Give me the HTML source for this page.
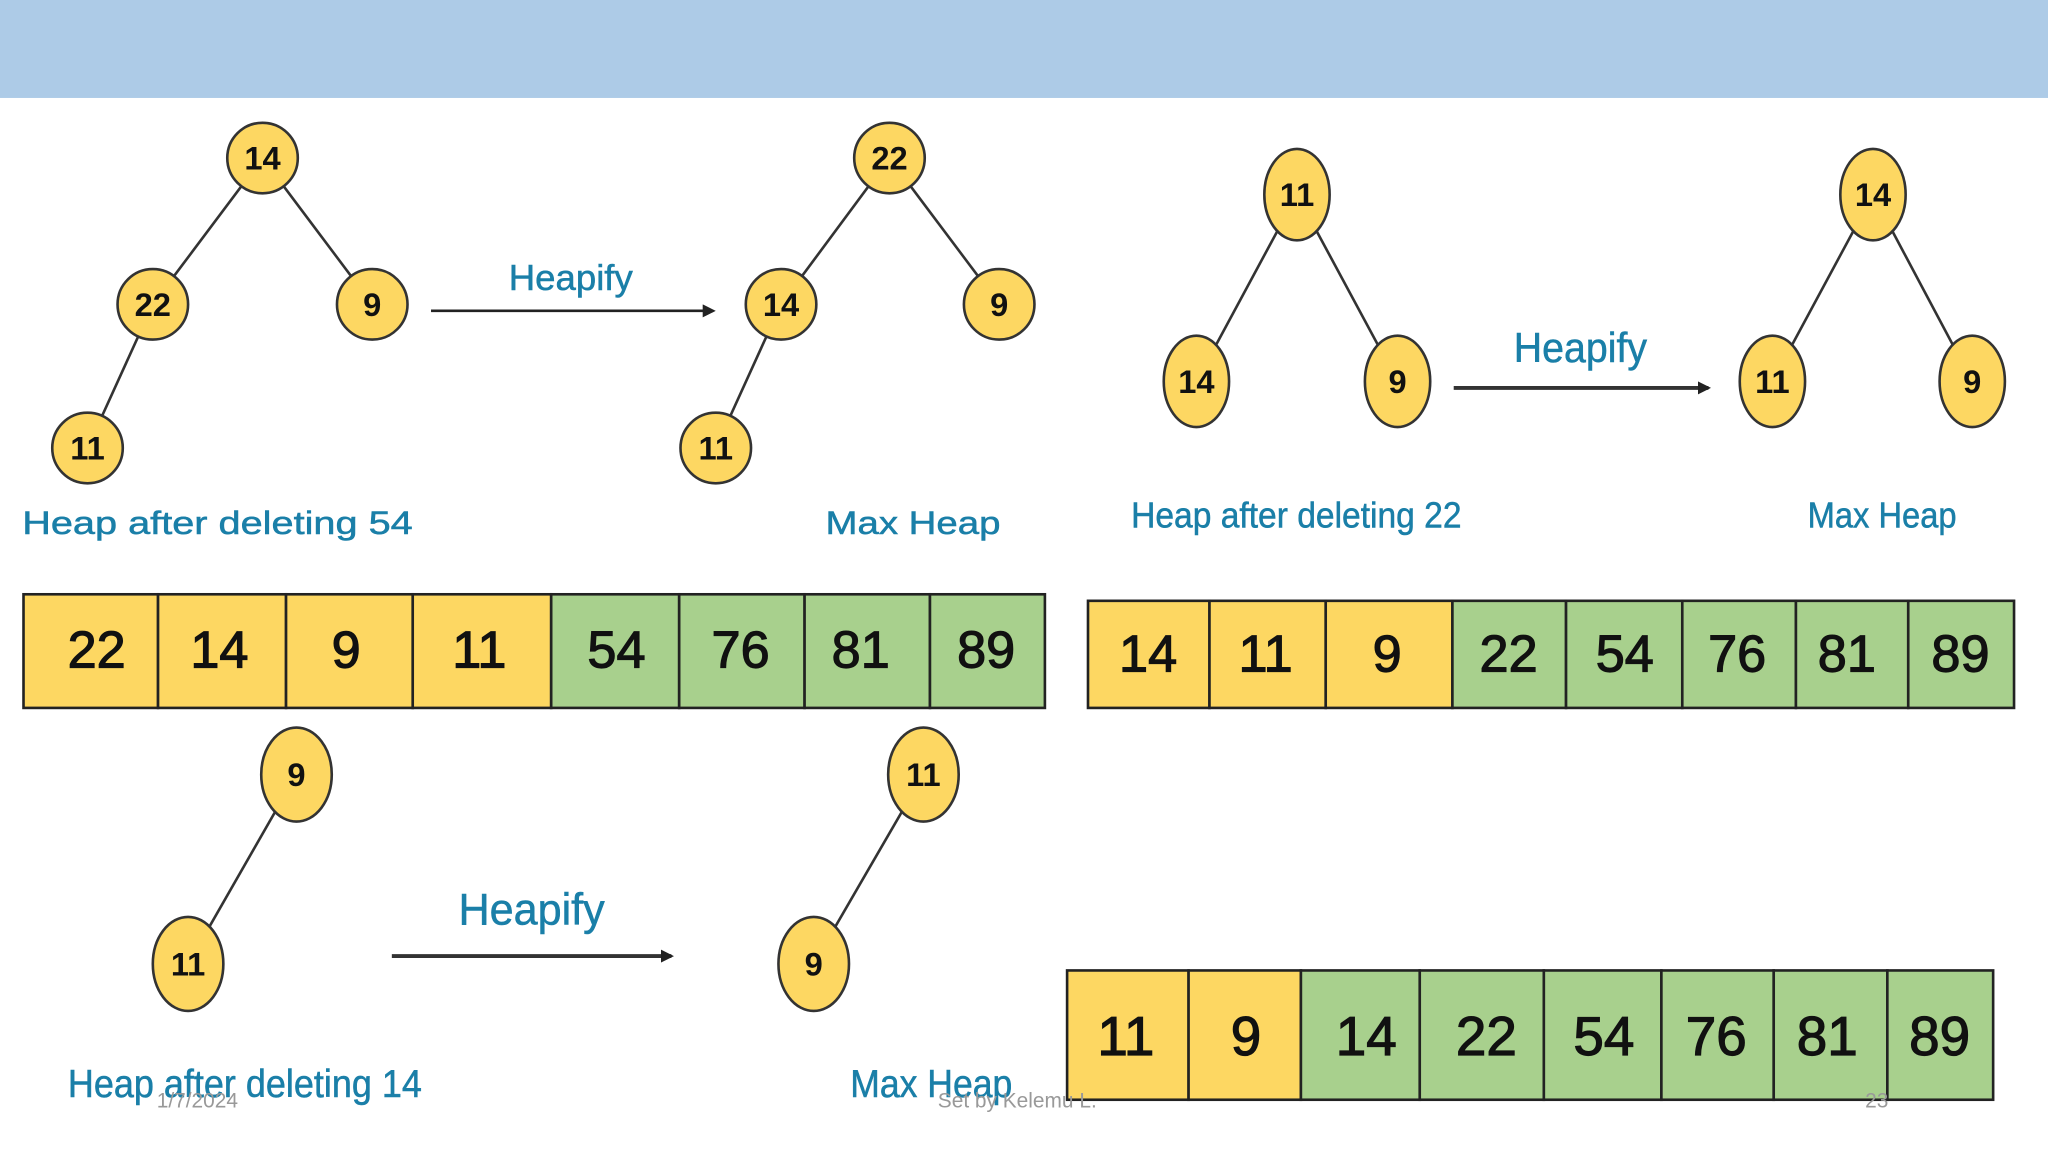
<!DOCTYPE html>
<html><head><meta charset="utf-8"><style>
html,body{margin:0;padding:0;background:#fff;width:2048px;height:1152px;overflow:hidden}
svg{display:block}
text{font-family:"Liberation Sans",sans-serif}
.n{font-size:25px;font-weight:bold;fill:#111;text-anchor:middle;dominant-baseline:central}
.a{font-size:40px;fill:#111;stroke:#111;stroke-width:0.9px;text-anchor:middle;dominant-baseline:central}
.b{font-size:42px;fill:#111;stroke:#111;stroke-width:0.9px;text-anchor:middle;dominant-baseline:central}
.t{fill:#1a7fa8;stroke:#1a7fa8;stroke-width:0.4px}
.e{stroke:#333;stroke-width:2}
.c{fill:#fdd762;stroke:#333;stroke-width:2}
.y{fill:#fdd762;stroke:#222;stroke-width:2}
.g{fill:#a8d08d;stroke:#222;stroke-width:2}
.f{font-size:16px;fill:#999}
</style></head><body>
<svg width="2048" height="1152" viewBox="0 0 1568 882" preserveAspectRatio="none">
<defs><marker id="ar" markerWidth="10" markerHeight="10" refX="8" refY="5" orient="auto" markerUnits="userSpaceOnUse"><path d="M0,0 L10,5 L0,10 z" fill="#222"/></marker></defs>
<rect x="0" y="0" width="1568" height="75" fill="#adcbe7"/>

<line class="e" x1="201" y1="121" x2="117" y2="233"/><line class="e" x1="201" y1="121" x2="285" y2="233"/><line class="e" x1="117" y1="233" x2="67" y2="343"/>
<circle class="c" cx="201" cy="121" r="27"/><text class="n" x="201" y="121">14</text>
<circle class="c" cx="117" cy="233" r="27"/><text class="n" x="117" y="233">22</text>
<circle class="c" cx="285" cy="233" r="27"/><text class="n" x="285" y="233">9</text>
<circle class="c" cx="67" cy="343" r="27"/><text class="n" x="67" y="343">11</text>
<line x1="330" y1="238" x2="546" y2="238" stroke="#222" stroke-width="2" marker-end="url(#ar)"/>
<text class="t" x="437" y="222" font-size="28" text-anchor="middle">Heapify</text>
<line class="e" x1="681" y1="121" x2="598" y2="233"/><line class="e" x1="681" y1="121" x2="765" y2="233"/><line class="e" x1="598" y1="233" x2="548" y2="343"/>
<circle class="c" cx="681" cy="121" r="27"/><text class="n" x="681" y="121">22</text>
<circle class="c" cx="598" cy="233" r="27"/><text class="n" x="598" y="233">14</text>
<circle class="c" cx="765" cy="233" r="27"/><text class="n" x="765" y="233">9</text>
<circle class="c" cx="548" cy="343" r="27"/><text class="n" x="548" y="343">11</text>
<text class="t" x="17" y="409" font-size="25" textLength="299" lengthAdjust="spacingAndGlyphs">Heap after deleting 54</text>
<text class="t" x="632" y="409" font-size="25" textLength="134" lengthAdjust="spacingAndGlyphs">Max Heap</text>

<g>
<rect class="y" x="18" y="455" width="103" height="87"/><rect class="y" x="121" y="455" width="98" height="87"/><rect class="y" x="219" y="455" width="97" height="87"/><rect class="y" x="316" y="455" width="106" height="87"/>
<rect class="g" x="422" y="455" width="98" height="87"/><rect class="g" x="520" y="455" width="96" height="87"/><rect class="g" x="616" y="455" width="96" height="87"/><rect class="g" x="712" y="455" width="88" height="87"/>
<text class="a" x="74" y="498">22</text><text class="a" x="168" y="498">14</text><text class="a" x="265" y="498">9</text><text class="a" x="367" y="498">11</text><text class="a" x="472" y="498">54</text><text class="a" x="567" y="498">76</text><text class="a" x="659" y="498">81</text><text class="a" x="755" y="498">89</text>
</g>

<line class="e" x1="993" y1="149" x2="916" y2="292"/><line class="e" x1="993" y1="149" x2="1070" y2="292"/>
<ellipse class="c" cx="993" cy="149" rx="25" ry="35"/><text class="n" x="993" y="149">11</text>
<ellipse class="c" cx="916" cy="292" rx="25" ry="35"/><text class="n" x="916" y="292">14</text>
<ellipse class="c" cx="1070" cy="292" rx="25" ry="35"/><text class="n" x="1070" y="292">9</text>
<line x1="1113" y1="297" x2="1308" y2="297" stroke="#333" stroke-width="3" marker-end="url(#ar)"/>
<text class="t" x="1159" y="277" font-size="32" textLength="102" lengthAdjust="spacingAndGlyphs">Heapify</text>
<line class="e" x1="1434" y1="149" x2="1357" y2="292"/><line class="e" x1="1434" y1="149" x2="1510" y2="292"/>
<ellipse class="c" cx="1434" cy="149" rx="25" ry="35"/><text class="n" x="1434" y="149">14</text>
<ellipse class="c" cx="1357" cy="292" rx="25" ry="35"/><text class="n" x="1357" y="292">11</text>
<ellipse class="c" cx="1510" cy="292" rx="25" ry="35"/><text class="n" x="1510" y="292">9</text>
<text class="t" x="866" y="404" font-size="28" textLength="253" lengthAdjust="spacingAndGlyphs">Heap after deleting 22</text>
<text class="t" x="1384" y="404" font-size="28" textLength="114" lengthAdjust="spacingAndGlyphs">Max Heap</text>

<g>
<rect class="y" x="833" y="460" width="93" height="82"/><rect class="y" x="926" y="460" width="89" height="82"/><rect class="y" x="1015" y="460" width="97" height="82"/>
<rect class="g" x="1112" y="460" width="87" height="82"/><rect class="g" x="1199" y="460" width="89" height="82"/><rect class="g" x="1288" y="460" width="87" height="82"/><rect class="g" x="1375" y="460" width="86" height="82"/><rect class="g" x="1461" y="460" width="81" height="82"/>
<text class="a" x="879" y="501">14</text><text class="a" x="969" y="501">11</text><text class="a" x="1062" y="501">9</text><text class="a" x="1155" y="501">22</text><text class="a" x="1244" y="501">54</text><text class="a" x="1330" y="501">76</text><text class="a" x="1414" y="501">81</text><text class="a" x="1501" y="501">89</text>
</g>

<line class="e" x1="227" y1="593" x2="144" y2="738"/>
<ellipse class="c" cx="227" cy="593" rx="27" ry="36"/><text class="n" x="227" y="593">9</text>
<ellipse class="c" cx="144" cy="738" rx="27" ry="36"/><text class="n" x="144" y="738">11</text>
<line x1="300" y1="732" x2="514" y2="732" stroke="#333" stroke-width="3" marker-end="url(#ar)"/>
<text class="t" x="351" y="708" font-size="34" textLength="112" lengthAdjust="spacingAndGlyphs">Heapify</text>
<line class="e" x1="707" y1="593" x2="623" y2="738"/>
<ellipse class="c" cx="707" cy="593" rx="27" ry="36"/><text class="n" x="707" y="593">11</text>
<ellipse class="c" cx="623" cy="738" rx="27" ry="36"/><text class="n" x="623" y="738">9</text>
<text class="t" x="52" y="840" font-size="30" textLength="271" lengthAdjust="spacingAndGlyphs">Heap after deleting 14</text>
<text class="t" x="651" y="840" font-size="30" textLength="124" lengthAdjust="spacingAndGlyphs">Max Heap</text>

<g>
<rect class="y" x="817" y="743" width="93" height="99"/><rect class="y" x="910" y="743" width="86" height="99"/>
<rect class="g" x="996" y="743" width="91" height="99"/><rect class="g" x="1087" y="743" width="95" height="99"/><rect class="g" x="1182" y="743" width="90" height="99"/><rect class="g" x="1272" y="743" width="86" height="99"/><rect class="g" x="1358" y="743" width="87" height="99"/><rect class="g" x="1445" y="743" width="81" height="99"/>
<text class="b" x="862" y="793">11</text><text class="b" x="954" y="793">9</text><text class="b" x="1046" y="793">14</text><text class="b" x="1138" y="793">22</text><text class="b" x="1228" y="793">54</text><text class="b" x="1314" y="793">76</text><text class="b" x="1399" y="793">81</text><text class="b" x="1485" y="793">89</text>
</g>

<text class="f" x="120" y="848">1/7/2024</text>
<text class="f" x="718" y="848">Set by Kelemu L.</text>
<text class="f" x="1428" y="848">23</text>
</svg>
</body></html>
